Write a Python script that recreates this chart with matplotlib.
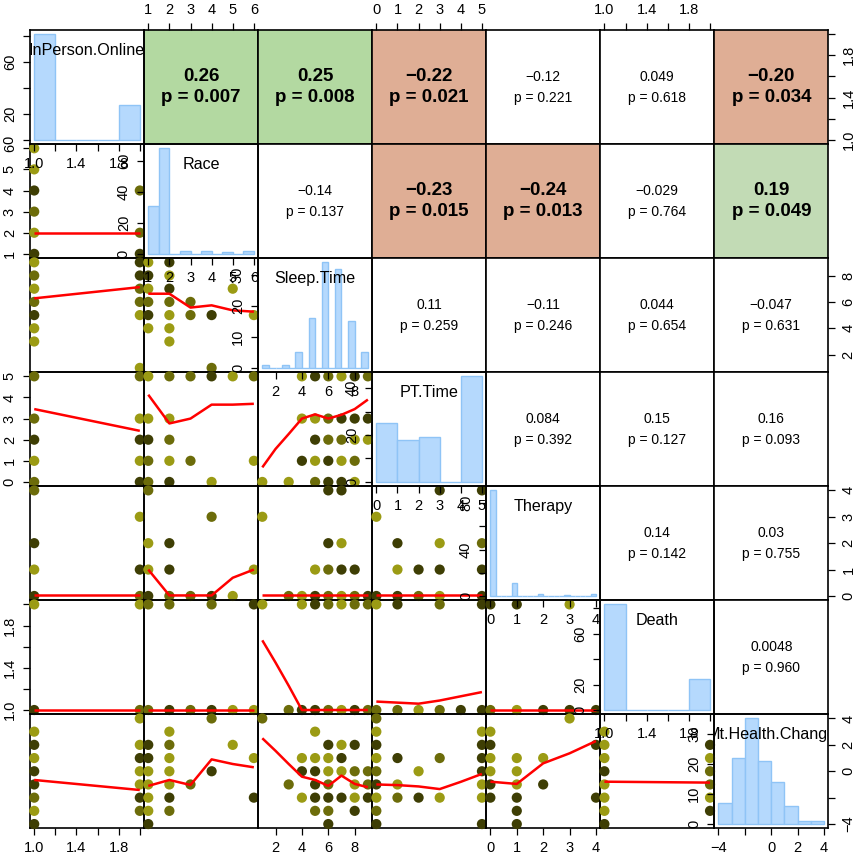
import matplotlib
matplotlib.use("Agg")
import matplotlib.pyplot as plt

plt.rcParams['font.family'] = ['Liberation Sans', 'DejaVu Sans']

# ---------------- data ----------------
var_names = ["InPerson.Online", "Race", "Sleep.Time", "PT.Time", "Therapy", "Death", "Mt.Health.Change"]
var_ranges = [(1, 2), (1, 6), (1, 9), (0, 5), (0, 4), (1, 2), (-4, 4)]

axis_ticks = [[1.0, 1.2, 1.4, 1.6, 1.8, 2.0], [1, 2, 3, 4, 5, 6], [2, 4, 6, 8], [0, 1, 2, 3, 4, 5],
              [0, 1, 2, 3, 4], [1.0, 1.2, 1.4, 1.6, 1.8, 2.0], [-4, -2, 0, 2, 4]]
axis_labels = [["1.0", "", "1.4", "", "1.8", ""], ["1", "2", "3", "4", "5", "6"], ["2", "4", "6", "8"],
               ["0", "1", "2", "3", "4", "5"], ["0", "1", "2", "3", "4"], ["1.0", "", "1.4", "", "1.8", ""],
               ["\u22124", "", "0", "2", "4"]]

# histograms (bin edges and counts)
io_breaks = [1.0, 1.2, 1.4, 1.6, 1.8, 2.0]
io_counts = [81, 0, 0, 0, 27]
race_breaks = [1, 1.5, 2, 2.5, 3, 3.5, 4, 4.5, 5, 5.5, 6]
race_counts = [31, 68, 0, 2, 0, 2, 0, 1, 0, 2]
sleep_breaks = [1, 1.5, 2, 2.5, 3, 3.5, 4, 4.5, 5, 5.5, 6, 6.5, 7, 7.5, 8, 8.5, 9]
sleep_counts = [1, 0, 0, 1, 0, 5, 0, 16, 0, 34, 0, 32, 0, 15, 0, 5]
pt_breaks = [0, 1, 2, 3, 4, 5]
pt_counts = [25, 18, 19, 0, 45]
ther_breaks = [0, 0.2, 0.4, 0.6, 0.8, 1.0, 1.2, 1.4, 1.6, 1.8, 2.0, 2.2, 2.4, 2.6, 2.8, 3.0, 3.2, 3.4, 3.6, 3.8, 4.0]
ther_counts = [91, 0, 0, 0, 11, 0, 0, 0, 0, 2, 0, 0, 0, 0, 1, 0, 0, 0, 0, 2]
death_breaks = [1.0, 1.2, 1.4, 1.6, 1.8, 2.0]
death_counts = [83, 0, 0, 0, 24]
mh_breaks = [-4, -3, -2, -1, 0, 1, 2, 3, 4]
mh_counts = [7, 22, 35, 21, 14, 6, 1, 1]

hist_yticks = [[0, 20, 40, 60, 80], [0, 20, 40, 60], [0, 10, 20, 30], [0, 10, 20, 30, 40],
               [0, 20, 40, 60, 80], [0, 20, 40, 60, 80], [0, 10, 20, 30]]
hist_ylabels = [["0", "20", "", "60", ""], ["0", "20", "40", "60"], ["0", "10", "20", "30"],
                ["0", "", "20", "", "40"], ["0", "", "40", "", "80"], ["0", "20", "", "60", ""],
                ["0", "10", "20", "30"]]

# correlations (upper triangle, row-wise)
corr_cells = [(0, 1), (0, 2), (0, 3), (0, 4), (0, 5), (0, 6),
              (1, 2), (1, 3), (1, 4), (1, 5), (1, 6),
              (2, 3), (2, 4), (2, 5), (2, 6),
              (3, 4), (3, 5), (3, 6),
              (4, 5), (4, 6),
              (5, 6)]
corr_r = ["0.26", "0.25", "\u22120.22", "\u22120.12", "0.049", "\u22120.20",
          "\u22120.14", "\u22120.23", "\u22120.24", "\u22120.029", "0.19",
          "0.11", "\u22120.11", "0.044", "\u22120.047",
          "0.084", "0.15", "0.16",
          "0.14", "0.03",
          "0.0048"]
corr_p = [0.007, 0.008, 0.021, 0.221, 0.618, 0.034,
          0.137, 0.015, 0.013, 0.764, 0.049,
          0.259, 0.246, 0.654, 0.631,
          0.392, 0.127, 0.093,
          0.142, 0.755,
          0.960]

# scatter points (x, y, shade) for lower panels; shade 0 dark, 1 mid, 2 light
pts_race_io = [(1, 6, 2), (1, 5, 2), (1, 4, 0), (1, 3, 1), (1, 2, 2), (1, 1, 0), (2, 4, 1), (2, 2, 1), (2, 1, 0)]
pts_sleep_io = [(1, 9, 2), (1, 8, 1), (1, 7, 2), (1, 6, 1), (1, 5, 0), (1, 4, 2), (1, 3, 2),
                (2, 9, 0), (2, 8, 0), (2, 7, 1), (2, 6, 1), (2, 5, 2), (2, 1, 2)]
pts_sleep_race = [(1, 9, 2), (1, 8, 0), (1, 7, 2), (1, 6, 1), (1, 5, 0), (1, 4, 2),
                  (2, 9, 0), (2, 8, 2), (2, 7, 0), (2, 6, 1), (2, 5, 2), (2, 4, 2), (2, 3, 2),
                  (3, 6, 1), (3, 5, 1), (4, 5, 0), (4, 1, 1), (5, 7, 2), (6, 5, 2)]
pts_pt_io = [(1, 5, 1), (1, 3, 1), (1, 2, 0), (1, 1, 2), (1, 0, 1),
             (2, 5, 1), (2, 3, 2), (2, 2, 0), (2, 1, 2), (2, 0, 0)]
pts_pt_race = [(1, 5, 2), (1, 3, 2), (1, 2, 0), (1, 1, 1), (1, 0, 1),
               (2, 5, 1), (2, 3, 2), (2, 2, 1), (2, 1, 2), (2, 0, 0),
               (3, 5, 1), (3, 1, 1), (4, 5, 0), (4, 0, 2), (5, 5, 2), (6, 5, 1), (6, 1, 2)]
pts_pt_sleep = [(1, 0, 2), (3, 0, 2), (4, 5, 2), (4, 3, 2), (4, 1, 0),
                (5, 5, 0), (5, 3, 2), (5, 2, 0), (5, 1, 2), (5, 0, 1),
                (6, 5, 1), (6, 3, 1), (6, 2, 1), (6, 1, 0), (6, 0, 0),
                (7, 5, 2), (7, 3, 0), (7, 2, 1), (7, 1, 2), (7, 0, 0),
                (8, 5, 0), (8, 3, 0), (8, 2, 2), (8, 1, 1), (8, 0, 2),
                (9, 5, 1), (9, 3, 0), (9, 2, 2)]
pts_ther_io = [(1, 4, 1), (1, 2, 0), (1, 1, 2), (1, 0, 0), (2, 3, 2), (2, 1, 0), (2, 0, 1)]
pts_ther_race = [(1, 4, 1), (1, 2, 2), (1, 1, 2), (1, 0, 0), (2, 2, 0), (2, 1, 0), (2, 0, 1),
                 (3, 0, 1), (4, 3, 1), (4, 0, 0), (5, 0, 2), (6, 1, 2)]
pts_ther_sleep = [(1, 3, 2), (3, 0, 1), (4, 0, 2), (5, 1, 2), (5, 0, 0), (6, 4, 0), (6, 2, 0), (6, 1, 1),
                  (6, 0, 1), (7, 4, 0), (7, 2, 2), (7, 1, 0), (7, 0, 2), (8, 1, 0), (8, 0, 1), (9, 0, 0)]
pts_ther_pt = [(0, 3, 2), (0, 0, 0), (1, 2, 0), (1, 1, 2), (1, 0, 0), (2, 1, 0), (2, 0, 1),
               (3, 4, 0), (3, 2, 2), (3, 1, 0), (3, 0, 2), (5, 4, 0), (5, 2, 1), (5, 1, 0), (5, 0, 0)]
pts_death_io = [(1, 2, 2), (1, 1, 0), (2, 2, 2), (2, 1, 1)]
pts_death_race = [(1, 2, 1), (1, 1, 1), (2, 2, 1), (2, 1, 0), (3, 1, 1), (4, 2, 1), (4, 1, 0),
                  (5, 1, 2), (6, 2, 0), (6, 1, 2)]
pts_death_sleep = [(1, 2, 2), (3, 1, 1), (4, 2, 2), (4, 1, 0), (5, 2, 0), (5, 1, 0), (6, 2, 1), (6, 1, 1),
                   (7, 2, 2), (7, 1, 2), (8, 2, 1), (8, 1, 0), (9, 2, 1), (9, 1, 1)]
pts_death_pt = [(0, 2, 2), (0, 1, 1), (1, 2, 0), (1, 1, 1), (2, 1, 2), (3, 2, 1), (3, 1, 1),
                (4, 1, 0), (5, 2, 0), (5, 1, 0)]
pts_death_ther = [(0, 2, 0), (0, 1, 1), (1, 2, 0), (1, 1, 2), (2, 1, 0), (3, 2, 2), (3, 1, 0), (4, 1, 0)]
pts_mh_io = [(1, 3, 2), (1, 2, 0), (1, 1, 2), (1, 0, 0), (1, -1, 0), (1, -2, 1), (1, -3, 2), (1, -4, 0),
             (2, 4, 2), (2, 2, 2), (2, 1, 0), (2, 0, 2), (2, -1, 2), (2, -2, 0), (2, -3, 1)]
pts_mh_race = [(1, 2, 0), (1, 1, 0), (1, 0, 2), (1, -1, 2), (1, -2, 2), (1, -3, 2), (1, -4, 0),
               (2, 3, 2), (2, 2, 1), (2, 1, 2), (2, 0, 2), (2, -1, 2), (2, -2, 0), (2, -3, 1),
               (3, -1, 1), (4, 4, 1), (4, 0, 0), (5, 2, 2), (6, 1, 2), (6, -2, 0)]
pts_mh_sleep = [(1, 4, 1), (3, -1, 1), (4, 1, 2), (4, 0, 0), (4, -2, 2),
                (5, 3, 2), (5, 1, 2), (5, 0, 0), (5, -1, 0), (5, -2, 0), (5, -3, 1),
                (6, 2, 0), (6, 1, 2), (6, 0, 2), (6, -1, 1), (6, -2, 0), (6, -3, 1), (6, -4, 0),
                (7, 2, 2), (7, 1, 0), (7, 0, 2), (7, -2, 0),
                (8, 2, 0), (8, 0, 1), (8, -1, 2), (8, -2, 2), (8, -3, 0),
                (9, 0, 1), (9, -1, 1), (9, -2, 0)]
pts_mh_pt = [(0, 4, 1), (0, 3, 2), (0, 2, 0), (0, 1, 2), (0, 0, 1), (0, -1, 0), (0, -2, 2), (0, -3, 1), (0, -4, 0),
             (1, 1, 0), (1, -1, 2), (1, -2, 1), (2, 0, 2), (2, -2, 0), (3, 1, 1), (3, -2, 2),
             (5, 3, 2), (5, 2, 0), (5, 1, 0), (5, 0, 0), (5, -1, 2), (5, -2, 2), (5, -4, 0)]
pts_mh_ther = [(0, 3, 2), (0, 2, 0), (0, 1, 2), (0, 0, 2), (0, -1, 0), (0, -2, 0),
               (1, 1, 2), (1, 0, 2), (1, -1, 2), (1, -2, 0), (1, -3, 0), (1, -4, 0),
               (2, 1, 2), (2, -1, 0), (3, 4, 2), (4, 2, 0), (4, -2, 0)]
pts_mh_death = [(1, 3, 2), (1, 2, 2), (1, 1, 2), (1, 0, 0), (1, -1, 2), (1, -2, 2), (1, -3, 2), (1, -4, 0),
                (2, 2, 0), (2, 1, 2), (2, 0, 1), (2, -1, 1), (2, -2, 2), (2, -3, 0)]

# smoother lines (x, y) per lower panel
ln_race_io = [(1, 2.0), (2, 2.0)]
ln_sleep_io = [(1, 6.27), (2, 7.12)]
ln_sleep_race = [(1, 6.62), (2, 6.62), (3, 5.57), (4, 5.74), (5, 5.36), (6, 5.26)]
ln_pt_io = [(1, 3.45), (2, 2.42)]
ln_pt_race = [(1, 4.13), (2, 2.77), (3, 3.0), (4, 3.66), (5, 3.66), (6, 3.7)]
ln_pt_sleep = [(1, 0.69), (2, 1.56), (3, 2.27), (4, 3.0), (5, 3.2), (6, 3.0), (7, 3.18), (8, 3.45), (9, 3.9)]
ln_ther_io = [(1, 0.02), (2, 0.02)]
ln_ther_race = [(1, 1.0), (2, 0.02), (3, 0.02), (4, 0.02), (5, 0.69), (6, 1.0)]
ln_ther_sleep = [(1, 0.02), (9, 0.02)]
ln_ther_pt = [(0, 0.02), (5, 0.02)]
ln_death_io = [(1, 1.0), (2, 1.0)]
ln_death_race = [(1, 1.0), (6, 1.0)]
ln_death_sleep = [(1, 1.66), (2, 1.45), (3, 1.23), (4, 1.0), (9, 1.0)]
ln_death_pt = [(0, 1.08), (1, 1.07), (2, 1.06), (3, 1.09), (4, 1.13), (5, 1.17)]
ln_death_ther = [(0, 1.0), (4, 1.0)]
ln_mh_io = [(1, -0.66), (2, -1.42)]
ln_mh_race = [(1, -1.11), (2, -0.66), (3, -1.04), (4, 0.9), (5, 0.55), (6, 0.3)]
ln_mh_sleep = [(1, 2.5), (2, 1.55), (3, 0.55), (4, -0.41), (5, -0.66), (6, -1.11), (7, -0.33), (8, -0.96), (9, -1.21)]
ln_mh_pt = [(0, -1.0), (1, -1.05), (2, -1.15), (3, -1.35), (4, -0.8), (5, -0.2)]
ln_mh_ther = [(0, -0.79), (1, -0.96), (2, 0.6), (3, 1.36), (4, 2.29)]
ln_mh_death = [(1, -0.79), (2, -0.86)]

# ---------------- assembly ----------------
hists = [(io_breaks, io_counts), (race_breaks, race_counts), (sleep_breaks, sleep_counts),
         (pt_breaks, pt_counts), (ther_breaks, ther_counts), (death_breaks, death_counts),
         (mh_breaks, mh_counts)]
lower = {
    (1, 0): (pts_race_io, ln_race_io),
    (2, 0): (pts_sleep_io, ln_sleep_io), (2, 1): (pts_sleep_race, ln_sleep_race),
    (3, 0): (pts_pt_io, ln_pt_io), (3, 1): (pts_pt_race, ln_pt_race), (3, 2): (pts_pt_sleep, ln_pt_sleep),
    (4, 0): (pts_ther_io, ln_ther_io), (4, 1): (pts_ther_race, ln_ther_race),
    (4, 2): (pts_ther_sleep, ln_ther_sleep), (4, 3): (pts_ther_pt, ln_ther_pt),
    (5, 0): (pts_death_io, ln_death_io), (5, 1): (pts_death_race, ln_death_race),
    (5, 2): (pts_death_sleep, ln_death_sleep), (5, 3): (pts_death_pt, ln_death_pt),
    (5, 4): (pts_death_ther, ln_death_ther),
    (6, 0): (pts_mh_io, ln_mh_io), (6, 1): (pts_mh_race, ln_mh_race), (6, 2): (pts_mh_sleep, ln_mh_sleep),
    (6, 3): (pts_mh_pt, ln_mh_pt), (6, 4): (pts_mh_ther, ln_mh_ther), (6, 5): (pts_mh_death, ln_mh_death),
}

# ---------------- style ----------------
W, H = 858, 859
X0, Y0, S = 30.0, 30.0, 114.04
shades = ['#3e3e04', '#6c6c0a', '#9b9b14']
hist_fill, hist_edge = '#b5d9fd', '#8fc4f6'
pos_col, pos_col_light, neg_col = '#b3d9a1', '#c2dbb5', '#dfae95'
TICK_LEN, TICK_PAD, TICK_FS = 5.0, 4.5, 10.5

fig = plt.figure(figsize=(W / 100, H / 100), dpi=100)


def rect(r, c):
    return [(X0 + c * S) / W, 1 - (Y0 + (r + 1) * S) / H, S / W, S / H]


def lim(lo, hi):
    d = (hi - lo) * 0.04
    return (lo - d, hi + d)


def base_axes(r, c, face='none'):
    ax = fig.add_axes(rect(r, c))
    ax.set_facecolor(face)
    for sp in ax.spines.values():
        sp.set_linewidth(1.2)
        sp.set_color('black')
    ax.set_xticks([])
    ax.set_yticks([])
    ax.set_xlim(lim(*var_ranges[c]))
    ax.set_ylim(lim(*var_ranges[r]))
    ax.tick_params(which='both', direction='out', length=TICK_LEN, width=0.9,
                   labelsize=TICK_FS, pad=TICK_PAD, colors='black')
    return ax


def rot_ylabels(ax):
    for lab in ax.get_yticklabels():
        lab.set_rotation(90)
        lab.set_va('center')


def outer_axes(ax, r, c, skip_bottom=False):
    if r == 0 and c % 2 == 1:
        ax.xaxis.set_ticks_position('top')
        ax.set_xticks(axis_ticks[c], axis_labels[c])
    if r == 6 and c % 2 == 0 and not skip_bottom:
        ax.xaxis.set_ticks_position('bottom')
        ax.set_xticks(axis_ticks[c], axis_labels[c])
    if c == 0 and r % 2 == 1:
        ax.yaxis.set_ticks_position('left')
        ax.set_yticks(axis_ticks[r], axis_labels[r])
        rot_ylabels(ax)
    if c == 6 and r % 2 == 0:
        ax.yaxis.set_ticks_position('right')
        ax.set_yticks(axis_ticks[r], axis_labels[r])
        rot_ylabels(ax)


# lower panels
for (r, c), (pts, ln) in lower.items():
    ax = base_axes(r, c)
    ax.scatter([p[0] for p in pts], [p[1] for p in pts], s=54,
               c=[shades[p[2]] for p in pts], linewidths=0, clip_on=False, zorder=3)
    ax.plot([q[0] for q in ln], [q[1] for q in ln], color='#ff0000', lw=1.8,
            solid_capstyle='butt', zorder=4)
    outer_axes(ax, r, c)

# upper panels
for (r, c), rl, p in zip(corr_cells, corr_r, corr_p):
    sig = p < 0.05
    if sig:
        if rl.startswith('\u2212'):
            face = neg_col
        elif p > 0.04:
            face = pos_col_light
        else:
            face = pos_col
    else:
        face = 'white'
    ax = base_axes(r, c, face)
    kw = dict(fontsize=13.5, fontweight='bold') if sig else dict(fontsize=10)
    ax.text(0.5, 0.5 + 10.5 / S, rl, ha='center', va='center', transform=ax.transAxes, **kw)
    ax.text(0.5, 0.5 - 10.5 / S, "p = %.3f" % p, ha='center', va='center', transform=ax.transAxes, **kw)
    outer_axes(ax, r, c)

# diagonal panels
for i in range(7):
    ax = base_axes(i, i)
    outer_axes(ax, i, i, skip_bottom=True)
    br, ct = hists[i]
    m = max(ct)
    hx = fig.add_axes(rect(i, i))
    hx.patch.set_alpha(0)
    for sp in hx.spines.values():
        sp.set_visible(False)
    hx.set_xlim(lim(*var_ranges[i]))
    hx.set_ylim(-0.04 * m, 1.04 * m)
    widths = [b - a for a, b in zip(br[:-1], br[1:])]
    hx.bar(br[:-1], ct, width=widths, align='edge', color=hist_fill,
           edgecolor=hist_edge, linewidth=1.0, zorder=2)
    hx.tick_params(which='both', direction='out', length=TICK_LEN, width=0.9,
                   labelsize=TICK_FS, pad=TICK_PAD, colors='black')
    hx.set_xticks(axis_ticks[i], axis_labels[i])
    hx.set_yticks(hist_yticks[i], hist_ylabels[i])
    rot_ylabels(hx)
    t = hx.text(0.5, 1 - 20 / S, var_names[i], ha='center', va='center',
                fontsize=11.6, transform=hx.transAxes, zorder=5)
    t.set_clip_on(True)
    t.set_clip_box(hx.bbox)

fig.savefig("out.png", dpi=100, facecolor='white')
